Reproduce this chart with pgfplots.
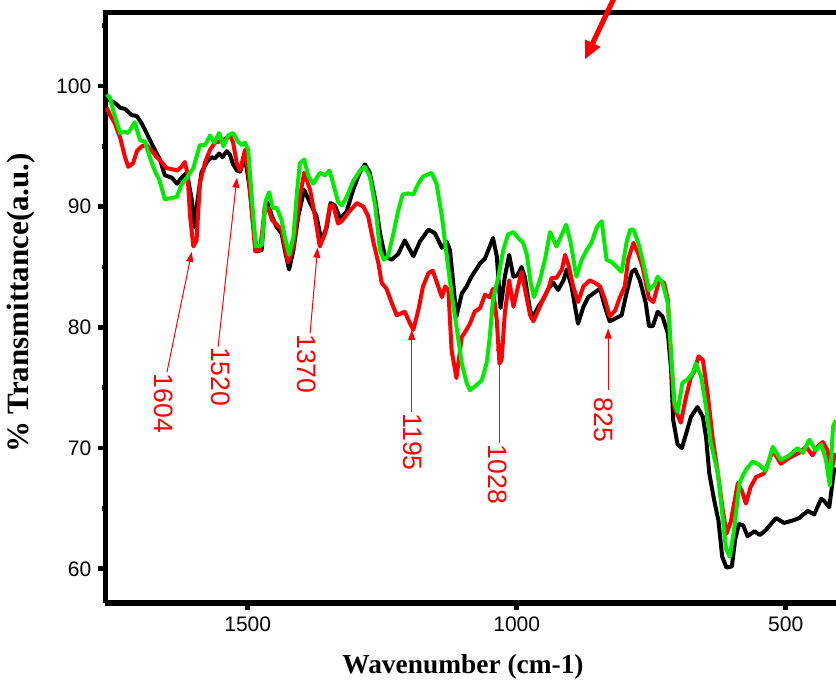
\documentclass[border=0pt]{standalone}
\usepackage{fontspec}
\setmainfont{Liberation Sans}
\newfontfamily\timesf{Liberation Serif}
\usepackage{pgfplots}
\pgfplotsset{compat=1.18}
\usetikzlibrary{arrows.meta}
\definecolor{cred}{RGB}{255,0,0}
\definecolor{cgreen}{RGB}{0,235,0}
\begin{document}
\begin{tikzpicture}
\begin{axis}[
 name=ax, scale only axis, width=365.25pt, height=295pt,
 xmin=406.5, xmax=1764.3, ymin=57.19, ymax=106.07, x dir=reverse,
 axis lines=left, axis line style={-, line width=2.8pt, black},
 xtick={500,1000,1500}, minor xtick={750,1250,1750},
 ytick={60,70,80,90,100}, minor ytick={65,75,85,95,105},
 tick align=outside, major tick length=3.6pt, minor tick length=1.6pt,
 tick style={black, line width=2.4pt},
 ticklabel style={font=\fontsize{10.5}{12}\selectfont},
 /pgf/number format/assume math mode=true,
 /pgf/number format/1000 sep={},
 clip=false,
 every axis plot/.append style={line width=2pt, line join=round, no markers},
]
\draw[line width=2.8pt, line cap=rect] (rel axis cs:0,1) -- (rel axis cs:1,1);
\addplot[black] coordinates {
(1762,99.0)(1756,98.8)(1747,98.6)(1737,98.2)(1728,98.1)(1716,97.6)(1706,97.5)(1697,96.9)(1688,96.1)(1676,95.0)(1663,93.9)(1654,92.6)(1641,92.4)(1631,91.9)(1623,92.4)(1613,92.8)(1604,90.6)(1599,88.3)(1593,90.6)(1586,92.8)(1576,93.7)(1567,94.1)(1561,94.0)(1553,94.4)(1547,94.1)(1539,94.6)(1533,94.3)(1527,93.5)(1520,93.0)(1514,92.9)(1508,93.7)(1502,93.3)(1496,91.4)(1490,88.6)(1483,86.3)(1474,86.4)(1468,90.1)(1462,90.3)(1455,89.2)(1446,88.3)(1437,87.8)(1431,86.4)(1423,84.8)(1415,86.4)(1406,89.2)(1395,91.4)(1384,90.3)(1372,89.2)(1363,87.2)(1353,88.3)(1346,90.3)(1338,90.1)(1328,89.0)(1316,89.6)(1304,91.4)(1291,92.9)(1282,93.5)(1273,92.8)(1263,90.6)(1254,87.8)(1245,85.9)(1232,85.6)(1220,86.1)(1208,87.2)(1192,85.9)(1180,87.1)(1164,88.1)(1152,87.8)(1139,86.6)(1130,87.1)(1124,86.4)(1118,83.7)(1112,80.9)(1102,82.8)(1093,83.4)(1084,84.2)(1068,85.3)(1059,85.7)(1050,86.7)(1044,87.4)(1037,85.9)(1030,81.6)(1022,84.2)(1014,86.0)(1006,84.2)(999,84.3)(991,85.0)(985,84.2)(975,81.4)(969,80.9)(960,81.7)(951,82.3)(941,83.2)(932,83.7)(923,83.1)(913,83.9)(907,84.8)(898,83.4)(886,80.3)(876,81.7)(867,82.5)(858,82.8)(845,83.2)(836,81.7)(827,80.5)(814,80.8)(805,81.0)(796,82.8)(786,84.6)(780,84.8)(771,83.9)(760,82.0)(754,80.1)(747,80.1)(738,81.3)(729,80.9)(719,79.5)(713,76.5)(709,72.3)(701,70.3)(693,70.0)(685,71.2)(676,72.6)(664,73.4)(654,72.6)(648,70.9)(642,67.9)(633,65.7)(625,64.0)(618,61.0)(610,60.1)(600,60.2)(594,62.4)(587,63.7)(579,63.6)(571,62.7)(558,63.1)(548,62.8)(537,63.2)(518,64.2)(503,63.8)(487,64.0)(475,64.2)(459,64.8)(447,64.5)(434,65.8)(428,65.6)(419,65.1)(410,68.2)(406.5,68.3)
};
\addplot[cred] coordinates {
(1762,98.2)(1756,97.6)(1747,96.9)(1737,95.7)(1728,94.1)(1722,93.3)(1713,93.6)(1706,94.6)(1697,95.0)(1688,95.1)(1678,94.6)(1669,94.1)(1660,93.7)(1651,93.2)(1641,93.1)(1631,93.0)(1623,93.3)(1617,93.7)(1612,92.8)(1607,89.2)(1601,86.7)(1595,87.2)(1589,91.9)(1579,93.7)(1570,94.7)(1561,95.3)(1552,95.4)(1542,95.6)(1533,95.9)(1527,95.3)(1520,93.5)(1514,93.0)(1505,94.7)(1500,93.3)(1493,90.0)(1486,86.3)(1477,86.4)(1468,89.9)(1462,89.9)(1455,88.9)(1446,88.5)(1437,88.1)(1431,86.7)(1425,85.4)(1415,86.7)(1412,87.8)(1403,90.8)(1395,92.8)(1384,91.4)(1375,89.2)(1366,86.7)(1356,87.8)(1347,90.1)(1341,90.1)(1332,88.6)(1325,88.8)(1313,89.5)(1297,90.3)(1285,90.0)(1276,89.2)(1267,87.2)(1257,85.3)(1251,83.7)(1242,83.2)(1232,82.0)(1223,81.0)(1208,81.3)(1198,80.3)(1192,79.8)(1183,81.4)(1174,83.4)(1164,84.5)(1156,84.7)(1146,83.4)(1139,82.5)(1133,83.4)(1127,83.1)(1121,78.1)(1112,75.8)(1102,79.2)(1096,79.6)(1087,80.3)(1078,81.3)(1068,81.6)(1059,82.7)(1050,82.5)(1044,83.2)(1037,80.6)(1032,77.0)(1028,77.3)(1022,81.2)(1014,83.9)(1006,81.7)(999,83.1)(991,84.6)(983,82.8)(975,81.0)(969,80.5)(960,81.4)(951,82.3)(941,83.2)(935,84.1)(926,84.1)(916,84.8)(910,86.0)(904,85.2)(895,83.4)(886,82.1)(876,83.4)(864,83.9)(855,83.7)(845,83.4)(836,82.3)(827,80.9)(817,81.4)(808,82.5)(799,83.4)(793,85.6)(783,87.0)(774,86.1)(766,85.0)(754,82.4)(746,82.1)(735,83.9)(726,83.7)(719,82.3)(713,77.3)(707,73.4)(695,72.1)(685,74.3)(676,75.9)(670,76.3)(662,77.6)(654,77.3)(645,74.5)(636,70.9)(626,67.9)(617,64.9)(610,62.9)(602,63.9)(589,67.1)(581,66.4)(574,65.4)(565,66.8)(555,67.6)(540,67.9)(524,69.8)(509,68.7)(493,69.2)(475,69.6)(462,70.1)(450,69.4)(441,70.1)(431,70.5)(422,69.8)(416,67.9)(408,69.6)
};
\addplot[cgreen] coordinates {
(1762,99.3)(1756,99.0)(1747,97.5)(1737,96.1)(1730,96.2)(1722,96.1)(1710,97.0)(1700,95.5)(1691,95.4)(1682,94.1)(1672,92.9)(1664,92.2)(1654,90.6)(1644,90.7)(1632,90.8)(1623,91.8)(1613,92.4)(1601,93.2)(1589,95.1)(1579,95.1)(1570,95.9)(1562,95.3)(1553,96.1)(1545,95.0)(1536,95.9)(1527,96.1)(1518,95.4)(1511,95.1)(1505,95.3)(1499,94.7)(1493,91.1)(1485,86.7)(1474,86.8)(1467,90.4)(1460,91.2)(1454,89.9)(1446,89.9)(1437,88.9)(1431,87.5)(1423,86.0)(1415,87.5)(1408,91.4)(1403,93.6)(1395,93.9)(1387,92.5)(1378,91.9)(1366,92.8)(1356,92.6)(1348,93.0)(1341,91.9)(1332,90.4)(1325,90.1)(1316,90.8)(1304,92.1)(1291,93.0)(1282,93.3)(1273,92.5)(1263,90.1)(1254,86.4)(1247,85.6)(1239,85.9)(1229,87.8)(1220,89.7)(1212,91.0)(1202,91.1)(1192,91.0)(1183,91.9)(1174,92.5)(1158,92.8)(1149,91.9)(1139,89.2)(1130,85.9)(1121,82.8)(1112,80.1)(1102,77.0)(1093,75.4)(1087,74.8)(1078,75.1)(1065,75.6)(1056,77.0)(1050,79.2)(1044,82.3)(1034,84.2)(1025,86.4)(1016,87.7)(1006,87.9)(997,87.4)(988,87.0)(981,86.0)(974,83.7)(968,82.5)(957,83.9)(947,85.7)(938,87.9)(926,86.7)(916,87.7)(908,88.5)(900,87.1)(889,84.2)(879,85.6)(870,86.4)(861,87.0)(851,88.3)(842,88.8)(833,85.6)(823,85.4)(814,85.0)(805,84.6)(796,87.0)(789,88.1)(783,88.1)(774,87.0)(766,85.6)(754,83.1)(744,83.5)(738,84.2)(729,83.7)(719,82.0)(713,77.9)(707,73.8)(701,73.0)(692,75.4)(682,75.7)(673,76.2)(667,77.0)(657,75.9)(648,73.4)(639,70.4)(626,67.9)(618,64.6)(611,61.7)(604,61.0)(596,63.2)(586,67.1)(574,68.2)(561,68.9)(549,68.6)(537,68.1)(524,70.1)(509,69.0)(493,69.4)(478,70.0)(468,69.6)(456,70.7)(444,69.8)(434,70.3)(425,69.0)(418,66.9)(412,71.8)(406.5,72.3)
};
% annotations
\tikzset{ann/.style={cred, line width=0.5pt, -{Triangle[length=5pt,width=3.5pt]}},
 lab/.style={text=cred, rotate=-90, anchor=west, inner sep=0pt, font=\fontsize{13.3}{15}\selectfont}}
\draw[ann] (axis cs:1650,76.3) -- (axis cs:1604,86.25);
\node[lab] at (axis cs:1657,76.2) {1604};
\draw[ann] (axis cs:1555,78.4) -- (axis cs:1520,92.4);
\node[lab] at (axis cs:1551,78.4) {1520};
\draw[ann] (axis cs:1384,79.5) -- (axis cs:1370,86.6);
\node[lab] at (axis cs:1391,79.45) {1370};
\draw[ann] (axis cs:1195,73.0) -- (axis cs:1195,79.8);
\node[lab] at (axis cs:1194,72.9) {1195};
\draw[ann] (axis cs:1032,70.4) -- (axis cs:1032,78.9);
\node[lab] at (axis cs:1036,70.3) {1028};
\draw[ann] (axis cs:830,74.8) -- (axis cs:830,79.9);
\node[lab] at (axis cs:839,74.2) {825};
\draw[cred, line width=2.6pt, -{Triangle[length=9pt,width=8pt]}] (axis cs:812,107.95) -- (axis cs:873,102.2);
\end{axis}
\node[font=\timesf\bfseries\fontsize{13.7}{16}\selectfont] at ([xshift=178.75pt, yshift=-32.15pt]ax.south west) {Wavenumber (cm-1)};
\node[rotate=90, font=\timesf\bfseries\fontsize{15.5}{18}\selectfont] at ([xshift=-42.25pt, yshift=149.85pt]ax.south west) {\% Transmittance(a.u.)};
\pgfresetboundingbox
\path[use as bounding box] ([xshift=-52.75pt,yshift=-41.65pt]ax.south west) rectangle ([yshift=6.35pt]ax.north east);
\end{tikzpicture}
\end{document}
